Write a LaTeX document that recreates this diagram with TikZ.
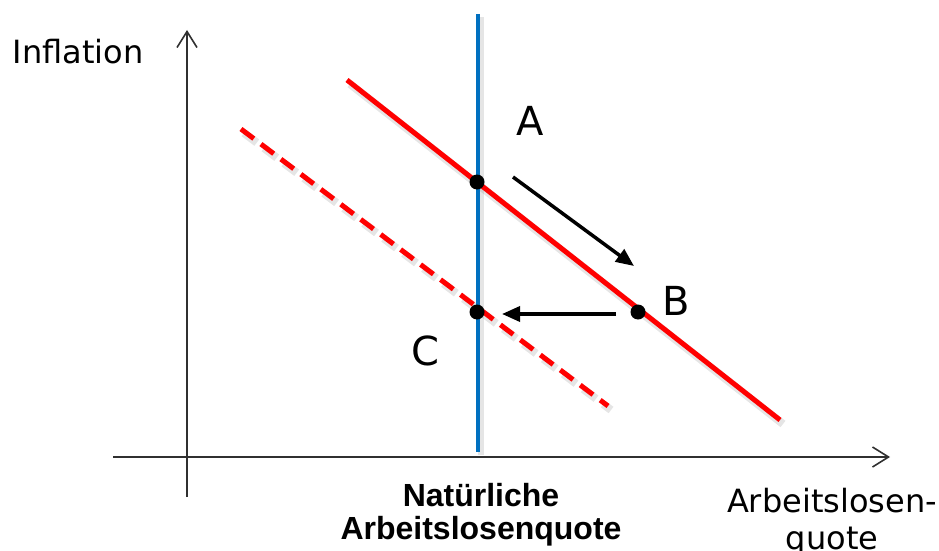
\documentclass[tikz,border=0pt]{standalone}
\usepackage{fontspec}
\setmainfont{DejaVu Sans}
\newfontfamily\arialfont{Liberation Sans}
\usetikzlibrary{arrows.meta}
\definecolor{curvered}{HTML}{FF0000}
\definecolor{nairublue}{HTML}{0070C0}
\definecolor{axisgray}{HTML}{303030}
\tikzset{
  axisline/.style={draw=axisgray, line width=1.6pt, -{Straight Barb[length=16pt,width=20pt,line width=1.6pt]}},
  pcurve/.style={draw=curvered, line width=5pt},
  pdashed/.style={pcurve, dash pattern=on 16pt off 9pt},
  nline/.style={draw=nairublue, line width=4.5pt},
  shadowline/.style={draw=black, opacity=0.10, line width=8pt},
  movearrow/.style={draw=black, line width=3.5pt, -{Triangle[length=18pt,width=15pt]}, shorten >=0pt},
  dot/.style={circle, fill=black, inner sep=0pt, minimum size=15pt},
  bigletter/.style={font=\fontsize{40}{48}\selectfont, inner sep=0pt},
  axlabel/.style={font=\fontsize{32}{37}\selectfont, inner sep=0pt, align=center},
  boldlabel/.style={font=\arialfont\bfseries\fontsize{32}{33}\selectfont, inner sep=0pt, align=center}
}
\begin{document}
\begin{tikzpicture}[x=1pt, y=-1pt]
  \useasboundingbox (0,0) rectangle (939,551);
  % axes
  \coordinate (yb) at (187,497);
  \coordinate (yt) at (187,30);
  \coordinate (xl) at (113,457);
  \coordinate (xr) at (890,457);
  \draw[axisline] (yb) -- (yt);
  \draw[axisline] (xl) -- (xr);
  % curve end points
  \coordinate (s1) at (347,80);
  \coordinate (s2) at (780,420);
  \coordinate (d1) at (241,129);
  \coordinate (d2) at (608,406);
  \coordinate (n1) at (478,14);
  \coordinate (n2) at (478,452);
  % shadows
  \draw[shadowline] ([shift={(3,4)}]s1) -- ([shift={(3,4)}]s2);
  \draw[shadowline, dash pattern=on 16pt off 9pt] ([shift={(3,4)}]d1) -- ([shift={(3,4)}]d2);
  \draw[shadowline, line width=6pt] ([shift={(3,3)}]n1) -- ([shift={(3,3)}]n2);
  % lines
  \draw[pdashed] (d1) -- (d2);
  \draw[pcurve] (s1) -- (s2);
  \draw[nline] (n1) -- (n2);
  % points
  \node[dot] (A) at (477,182) {};
  \node[dot] (C) at (477,312) {};
  \node[dot] (B) at (638,312) {};
  % movement arrows
  \coordinate (m1s) at (513,177);
  \coordinate (m1e) at (634,266);
  \coordinate (m2s) at (616,314);
  \coordinate (m2e) at (502,314);
  \draw[movearrow] (m1s) -- (m1e);
  \draw[movearrow] (m2s) -- (m2e);
  % labels
  \node[bigletter] (la) at (530,121) {A};
  \node[bigletter] (lb) at (676,301) {B};
  \node[bigletter] (lc) at (425,351) {C};
  \node[axlabel] (infl) at (78,52) {Inflation};
  \node[axlabel] (alq) at (832,522) {Arbeitslosen-\\quote};
  \node[boldlabel] (nalq) at (481,515) {Natürliche\\Arbeitslosenquote};
\end{tikzpicture}
\end{document}
